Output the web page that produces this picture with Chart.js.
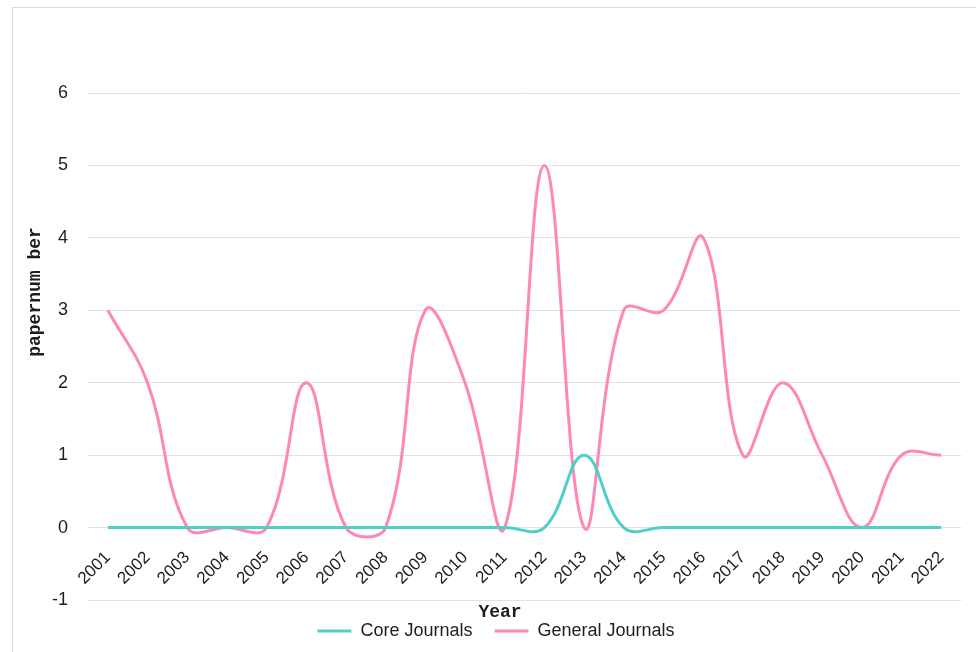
<!DOCTYPE html>
<html>
<head>
<meta charset="utf-8">
<script src="https://cdn.jsdelivr.net/npm/chart.js@4/dist/chart.umd.min.js"></script>
<style>
  html, body { margin: 0; padding: 0; background: #ffffff; }
  #wrap { position: relative; width: 976px; height: 652px; }
</style>
</head>
<body>
<div id="wrap"><canvas id="chart" width="976" height="652"></canvas></div>
<script>
// Publication years
const years = ['2001','2002','2003','2004','2005','2006','2007','2008','2009','2010','2011',
               '2012','2013','2014','2015','2016','2017','2018','2019','2020','2021','2022'];

// Papers per year in core journals
const coreJournals = [0,0,0,0,0,0,0,0,0,0,0,0,1,0,0,0,0,0,0,0,0,0];

// Papers per year in general journals
const generalJournals = [3,2,0,0,0,2,0,0,3,2,0,5,0,3,3,4,1,2,1,0,1,1];

// Value axis ticks
const yTicks = [-1,0,1,2,3,4,5,6];

const CORE_COLOR = '#4ecfc8';
const GENERAL_COLOR = '#ff87b4';
const TEXT_COLOR = '#1e1e1e';
const SANS = '"Liberation Sans", Arial, sans-serif';
const MONO = '"Liberation Mono", "DejaVu Sans Mono", monospace';

// Outer frame and the two axis titles
const decorations = {
  id: 'decorations',
  beforeDraw(chart) {
    const ctx = chart.ctx;
    ctx.save();
    ctx.strokeStyle = '#d9d9d9';
    ctx.lineWidth = 1;
    ctx.strokeRect(12.5, 7.5, 1000, 700);
    ctx.restore();
  },
  afterDraw(chart) {
    const ctx = chart.ctx;
    ctx.save();
    ctx.fillStyle = TEXT_COLOR;
    ctx.font = 'bold 18px ' + MONO;
    ctx.textAlign = 'center';
    ctx.textBaseline = 'middle';
    ctx.fillText('Year', 500, 612);
    ctx.translate(35, 292);
    ctx.rotate(-Math.PI / 2);
    ctx.fillText('papernum ber', 0, 0);
    ctx.restore();
  }
};

new Chart(document.getElementById('chart'), {
  type: 'line',
  data: {
    labels: years,
    datasets: [
      {
        label: 'Core Journals',
        data: coreJournals,
        borderColor: CORE_COLOR,
        backgroundColor: CORE_COLOR,
        borderWidth: 3,
        pointRadius: 0,
        tension: 0.4
      },
      {
        label: 'General Journals',
        data: generalJournals,
        borderColor: GENERAL_COLOR,
        backgroundColor: GENERAL_COLOR,
        borderWidth: 3,
        pointRadius: 0,
        tension: 0.4
      }
    ]
  },
  options: {
    responsive: false,
    animation: false,
    layout: { padding: { left: 30, right: 14, top: 93, bottom: 2 } },
    plugins: {
      tooltip: { enabled: false },
      legend: {
        position: 'bottom',
        labels: {
          usePointStyle: true,
          pointStyle: 'line',
          boxWidth: 34,
          pointStyleWidth: 34,
          padding: 22,
          color: TEXT_COLOR,
          font: { family: SANS, size: 18 }
        }
      }
    },
    scales: {
      x: {
        position: { y: 0 },
        offset: true,
        grid: { display: false, drawTicks: false },
        border: { display: false },
        ticks: {
          minRotation: 45,
          maxRotation: 45,
          autoSkip: false,
          padding: 20,
          color: TEXT_COLOR,
          font: { family: SANS, size: 17 }
        }
      },
      y: {
        min: yTicks[0],
        max: yTicks[yTicks.length - 1],
        afterFit(scale) { scale.width = 58; },
        afterBuildTicks(scale) { scale.ticks = yTicks.map(v => ({ value: v })); },
        grid: { color: '#e2e2e2', drawTicks: false },
        border: { display: false },
        ticks: {
          padding: 20,
          color: TEXT_COLOR,
          font: { family: SANS, size: 18 }
        }
      }
    }
  },
  plugins: [decorations]
});
</script>
</body>
</html>
